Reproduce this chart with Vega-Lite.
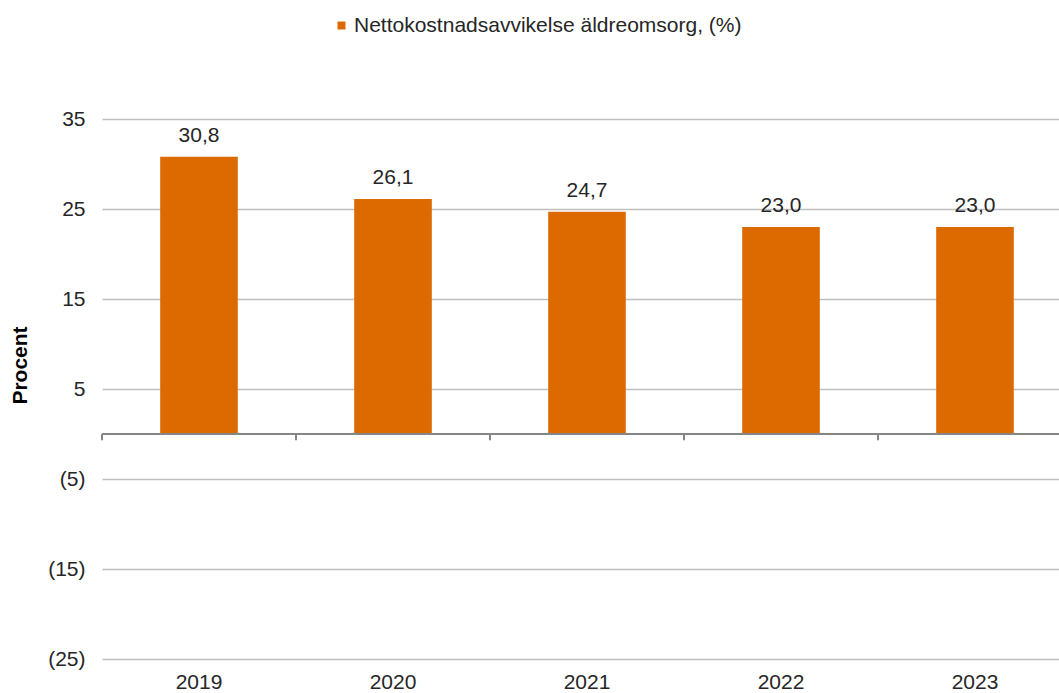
{
  "$schema": "https://vega.github.io/schema/vega-lite/v6.json",
  "autosize": "none",
  "width": 957,
  "height": 540,
  "padding": {"left": 102, "top": 119, "right": 0, "bottom": 34},
  "background": "white",
  "config": {
    "view": {"stroke": null},
    "font": "Liberation Sans",
    "locale": {"number": {"decimal": ",", "thousands": " ", "grouping": [3], "currency": ["", " kr"]}}
  },
  "data": {
    "values": [
      {"year": "2019", "value": 30.8, "series": "Nettokostnadsavvikelse äldreomsorg, (%)"},
      {"year": "2020", "value": 26.1, "series": "Nettokostnadsavvikelse äldreomsorg, (%)"},
      {"year": "2021", "value": 24.7, "series": "Nettokostnadsavvikelse äldreomsorg, (%)"},
      {"year": "2022", "value": 23.0, "series": "Nettokostnadsavvikelse äldreomsorg, (%)"},
      {"year": "2023", "value": 23.0, "series": "Nettokostnadsavvikelse äldreomsorg, (%)"}
    ]
  },
  "encoding": {
    "x": {
      "field": "year",
      "type": "ordinal",
      "scale": {"range": [0, 970], "paddingInner": 0.6, "paddingOuter": 0.3},
      "axis": {
        "title": null,
        "labelAngle": 0,
        "labelFontSize": 21,
        "labelColor": "#262626",
        "labelPadding": 12,
        "domain": false,
        "ticks": false,
        "grid": false
      }
    },
    "y": {
      "field": "value",
      "type": "quantitative",
      "scale": {"domain": [-25, 35], "nice": false, "zero": false},
      "axis": {
        "title": "Procent",
        "titleFont": "Liberation Sans",
        "titleFontWeight": "bold",
        "titleFontSize": 21,
        "titleColor": "#000000",
        "titleAngle": -90,
        "titleAlign": "center",
        "titleBaseline": "middle",
        "titleX": -82,
        "titleY": 246,
        "values": [35, 25, 15, 5, -5, -15, -25],
        "labelExpr": "datum.value < 0 ? '(' + (-datum.value) + ')' : datum.value + '\u00a0'",
        "labelFontSize": 21,
        "labelColor": "#262626",
        "labelPadding": 17,
        "domain": false,
        "ticks": false,
        "grid": true,
        "gridColor": "#BFBFBF",
        "gridWidth": 1.5
      }
    }
  },
  "layer": [
    {
      "mark": {"type": "bar", "color": "#DD6A00"},
      "encoding": {
        "color": {
          "field": "series",
          "type": "nominal",
          "scale": {"range": ["#DD6A00"]},
          "legend": {
            "title": null,
            "orient": "none",
            "legendX": 229,
            "legendY": -104,
            "direction": "horizontal",
            "padding": 0,
            "symbolType": "square",
            "symbolSize": 64,
            "symbolStrokeWidth": 0,
            "labelFontSize": 21,
            "labelLimit": 0,
            "labelColor": "#262626",
            "labelOffset": 2
          }
        }
      }
    },
    {
      "mark": {"type": "rule", "color": "#868686", "strokeWidth": 2},
      "encoding": {
        "x": {"field": "year", "type": "ordinal", "bandPosition": -0.75},
        "y": {"datum": 0},
        "y2": {"datum": -0.7}
      }
    },
    {
      "mark": {"type": "rule", "color": "#868686", "strokeWidth": 2},
      "encoding": {
        "x": null,
        "y": {"datum": 0}
      }
    },
    {
      "mark": {"type": "text", "baseline": "bottom", "dy": -11, "fontSize": 21, "color": "#262626"},
      "encoding": {
        "text": {"field": "value", "type": "quantitative", "format": ".1f"}
      }
    }
  ]
}
